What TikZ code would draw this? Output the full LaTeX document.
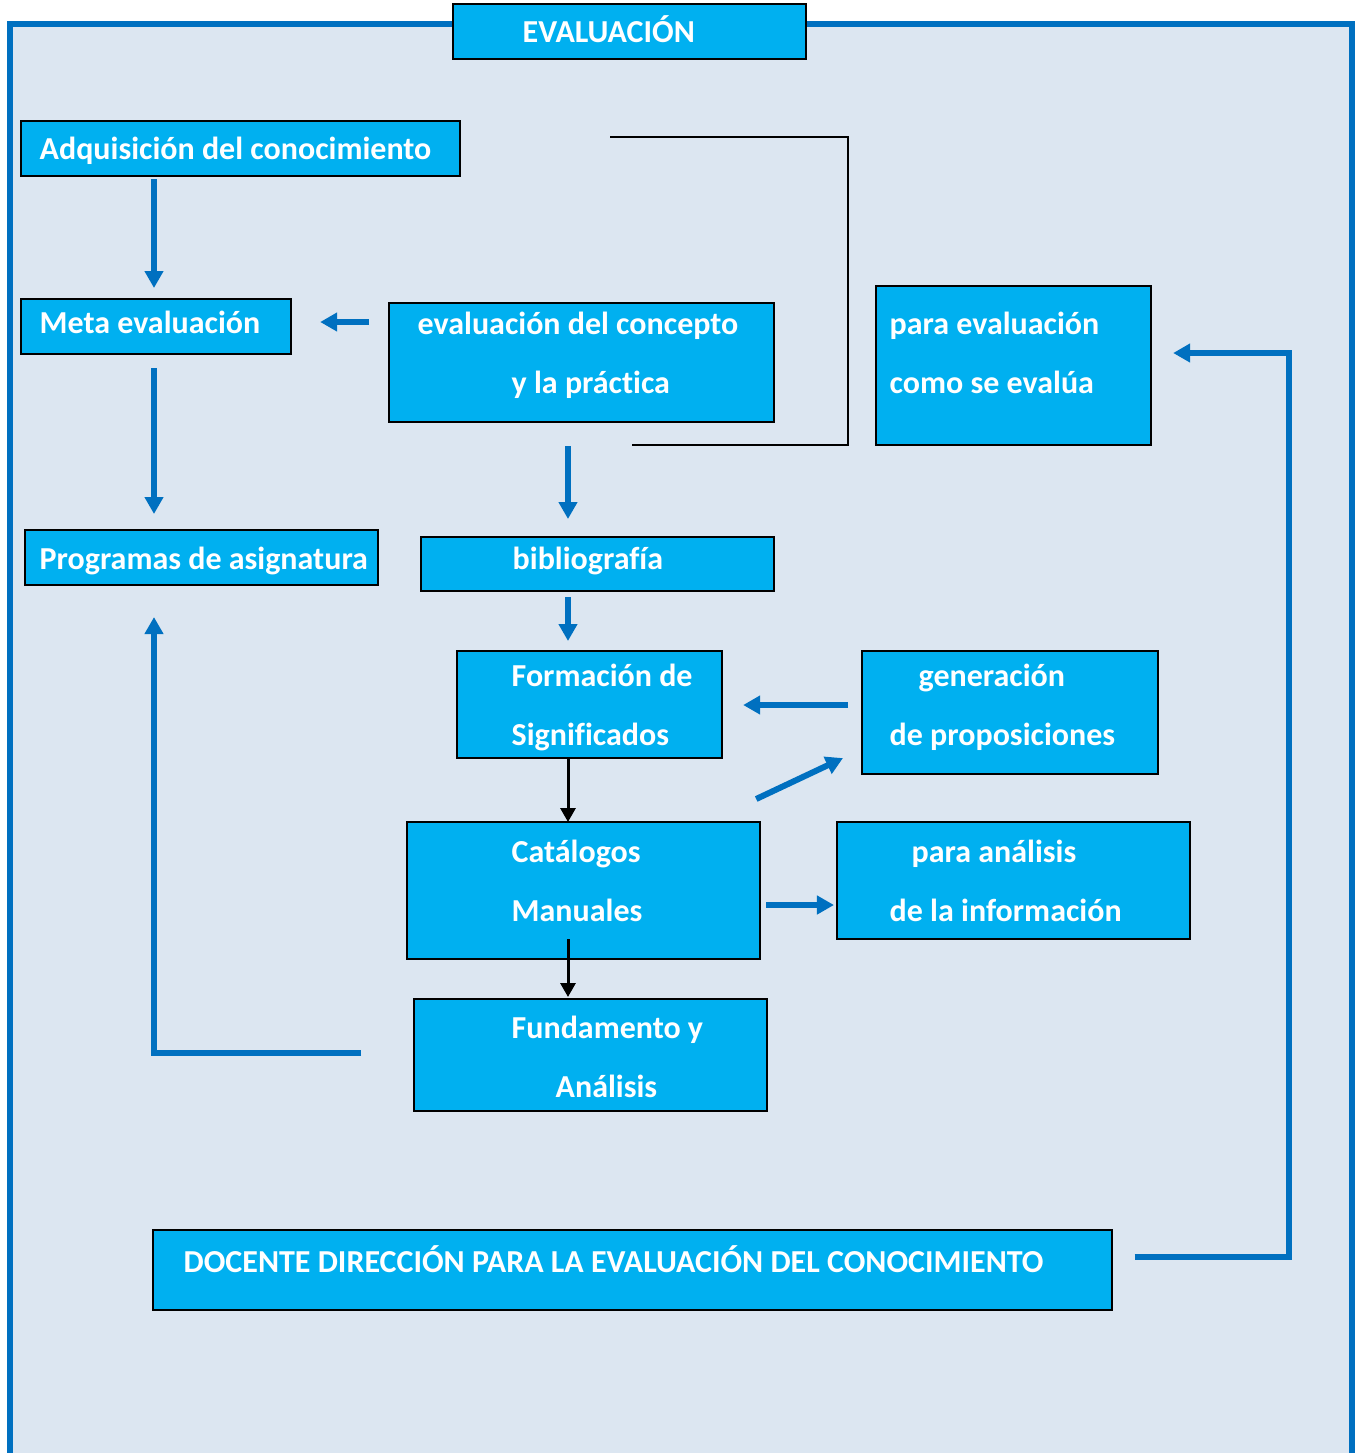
\documentclass[tikz,border=0pt]{standalone}
\usepackage{fontspec}
\setmainfont[Ligatures=NoCommon]{Carlito}
\usetikzlibrary{arrows.meta,calc}
\definecolor{bgblue}{HTML}{DCE6F1}
\definecolor{cyanbox}{HTML}{00B0F0}
\definecolor{darkblue}{HTML}{0070C0}
\begin{document}
\begin{tikzpicture}[x=0.01cm,y=-0.01cm,
  box/.style={draw=black,line width=0.02cm,fill=cyanbox,inner sep=0pt,outer sep=0pt,anchor=north west},
  lbl/.style={text=white,font=\bfseries\fontsize{9.1pt}{11pt}\selectfont,inner sep=0pt,anchor=base west},
  barrow/.style={draw=darkblue,line width=0.06cm,-{Triangle[length=0.17cm,width=0.18cm]}},
  karrow/.style={draw=black,line width=0.03cm,-{Triangle[length=0.14cm,width=0.15cm]}},
  kline/.style={draw=black,line width=0.018cm}]
\useasboundingbox (0,0) rectangle (1362,1453);
% frame
\fill[bgblue] (10,24) rectangle (1352,1453);
\draw[darkblue,line width=0.055cm] (10,1460) -- (10,24) -- (1352,24) -- (1352,1460);
% boxes
\node[box,minimum width=3.53cm,minimum height=0.55cm] (title) at (453,4) {};
\node[box,minimum width=4.39cm,minimum height=0.55cm] (adq) at (21,121) {};
\node[box,minimum width=2.70cm,minimum height=0.55cm] (meta) at (21,299) {};
\node[box,minimum width=3.85cm,minimum height=1.19cm] (evc) at (389,303) {};
\node[box,minimum width=2.75cm,minimum height=1.59cm] (pe) at (876,286) {};
\node[box,minimum width=3.53cm,minimum height=0.55cm] (prog) at (25,530) {};
\node[box,minimum width=3.53cm,minimum height=0.54cm] (bib) at (421,537) {};
\node[box,minimum width=2.65cm,minimum height=1.07cm] (form) at (457,651) {};
\node[box,minimum width=2.96cm,minimum height=1.23cm] (gen) at (862,651) {};
\node[box,minimum width=3.53cm,minimum height=1.37cm] (cat) at (407,822) {};
\node[box,minimum width=3.53cm,minimum height=1.17cm] (pa) at (837,822) {};
\node[box,minimum width=3.53cm,minimum height=1.12cm] (fund) at (414,999) {};
\node[box,minimum width=9.58cm,minimum height=0.80cm] (doc) at (153,1230) {};
% texts
\node[lbl] (t0) at (522,42) {EVALUACIÓN};
\node[lbl] (t1) at (39,159) {Adquisición del conocimiento};
\node[lbl] (t2) at (39,333) {Meta evaluación};
\node[lbl] (t3a) at (417,334) {evaluación del concepto};
\node[lbl] (t3b) at (511,393) {y la práctica};
\node[lbl] (t4a) at (889,334) {para evaluación};
\node[lbl] (t4b) at (889,393) {como se evalúa};
\node[lbl] (t5) at (39,569) {Programas de asignatura};
\node[lbl] (t6) at (512,569) {bibliografía};
\node[lbl] (t7a) at (511,686) {Formación de};
\node[lbl] (t7b) at (511,745) {Significados};
\node[lbl] (t8a) at (918,686) {generación};
\node[lbl] (t8b) at (889,745) {de proposiciones};
\node[lbl] (t9a) at (511,862) {Catálogos};
\node[lbl] (t9b) at (511,921) {Manuales};
\node[lbl] (t10a) at (911,862) {para análisis};
\node[lbl] (t10b) at (889,921) {de la información};
\node[lbl] (t11a) at (511,1038) {Fundamento y};
\node[lbl] (t11b) at (555,1097) {Análisis};
\node[lbl] (t12) at (183,1272) {DOCENTE DIRECCIÓN PARA LA EVALUACIÓN DEL CONOCIMIENTO};
% blue arrows
\draw[barrow] ($(adq.south west)+(133,3)$) -- ($(meta.north west)+(133,-11)$);
\draw[barrow] ($(evc.north west)+(-20,19)$) -- ($(meta.north east)+(29,23)$);
\draw[barrow] ($(meta.south west)+(133,14)$) -- ($(prog.north west)+(129,-16)$);
\draw[barrow] ($(evc.south west)+(179,24)$) -- ($(bib.north west)+(147,-18)$);
\draw[barrow] ($(bib.south west)+(147,6)$) -- ($(form.north west)+(111,-10)$);
\draw[barrow] ($(gen.north west)+(-14,54)$) -- ($(form.north east)+(21,54)$);
\draw[barrow] ($(cat.north east)+(-4,-23)$) -- ($(gen.south west)+(-19,-16)$);
\draw[barrow] ($(cat.north east)+(6,83)$) -- ($(pa.north west)+(-3,83)$);
\draw[barrow] ($(fund.north west)+(-53,54)$) -| ($(prog.south west)+(129,32)$);
\draw[barrow] ($(doc.north east)+(23,27)$) -- ++(154,0) |- ($(pe.north east)+(22,67)$);
% black arrows
\draw[karrow] ($(form.south west)+(111,0)$) -- ($(cat.north west)+(161,0)$);
\draw[karrow] ($(cat.south west)+(161,-20)$) -- ($(fund.north west)+(154,-2)$);
% bracket
\coordinate (k1) at (610,137);
\coordinate (k2) at (848,137);
\coordinate (k3) at (848,445);
\coordinate (k4) at (632,445);
\draw[kline] (k1) -- (k2) -- (k3) -- (k4);
\end{tikzpicture}
\end{document}
